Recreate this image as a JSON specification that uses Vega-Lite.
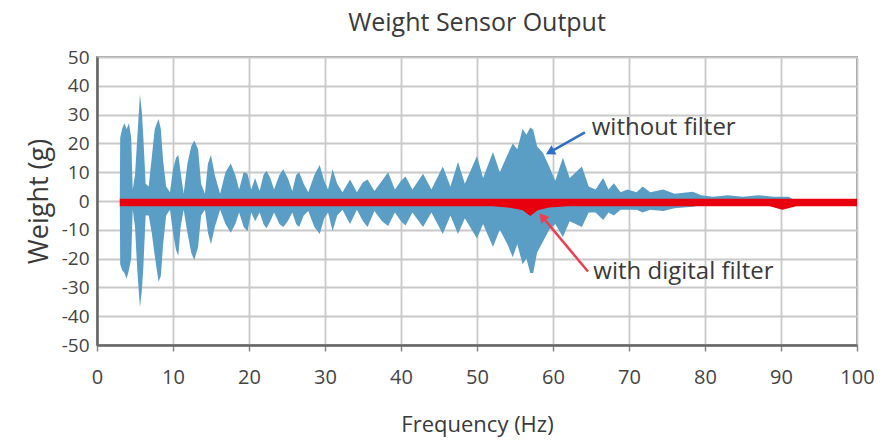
{
  "$schema": "https://vega.github.io/schema/vega-lite/v6.json",
  "width": 760,
  "height": 288,
  "autosize": {"type": "none"},
  "padding": {"left": 97, "top": 57, "right": 26, "bottom": 95},
  "background": "white",
  "title": {"text": "Weight Sensor Output", "font": "Open Sans", "fontSize": 25, "fontWeight": "normal", "color": "#3a3a3a", "anchor": "middle", "offset": 12},
  "config": {
    "view": {"stroke": "#9a9a9a", "strokeWidth": 2},
    "axis": {"labelFont": "Open Sans", "titleFont": "Open Sans", "labelColor": "#444", "titleColor": "#3a3a3a", "titleFontWeight": "normal", "labelFontSize": 20, "titleFontSize": 22, "gridColor": "#c9c9c9", "gridWidth": 1.8, "domainColor": "#666", "domainWidth": 2.5, "labelOverlap": false, "labelBound": false},
    "axisY": {"labelOverlap": false, "labelSeparation": 0}
  },
  "datasets": {
    "blue": [
      {"f": 3.0, "hi": 0, "lo": 0}, {"f": 3.05, "hi": 22, "lo": -22}, {"f": 3.3, "hi": 25, "lo": -24}, {"f": 3.6, "hi": 27, "lo": -25}, {"f": 3.9, "hi": 25, "lo": -27}, {"f": 4.2, "hi": 27, "lo": -24}, {"f": 4.5, "hi": 22, "lo": -20}, {"f": 4.7, "hi": 4, "lo": -3}, {"f": 5.0, "hi": 9, "lo": -9}, {"f": 5.3, "hi": 22, "lo": -24}, {"f": 5.65, "hi": 37, "lo": -37}, {"f": 5.9, "hi": 31, "lo": -31}, {"f": 6.1, "hi": 22, "lo": -23}, {"f": 6.4, "hi": 6, "lo": -5}, {"f": 6.8, "hi": 5, "lo": -5}, {"f": 7.2, "hi": 15, "lo": -11}, {"f": 7.6, "hi": 25, "lo": -19}, {"f": 8.1, "hi": 28.5, "lo": -28}, {"f": 8.4, "hi": 25, "lo": -26}, {"f": 8.7, "hi": 14, "lo": -15}, {"f": 9.1, "hi": 5, "lo": -5}, {"f": 9.6, "hi": 3, "lo": -3}, {"f": 10.0, "hi": 11, "lo": -11}, {"f": 10.4, "hi": 15, "lo": -17}, {"f": 10.7, "hi": 16, "lo": -19}, {"f": 11.0, "hi": 10, "lo": -9}, {"f": 11.4, "hi": 2.5, "lo": -3}, {"f": 11.9, "hi": 13, "lo": -11}, {"f": 12.4, "hi": 19, "lo": -18}, {"f": 12.8, "hi": 21, "lo": -20.5}, {"f": 13.3, "hi": 18, "lo": -16}, {"f": 13.7, "hi": 6, "lo": -5}, {"f": 14.2, "hi": 2.5, "lo": -3}, {"f": 14.6, "hi": 13, "lo": -11}, {"f": 15.0, "hi": 16, "lo": -15}, {"f": 15.5, "hi": 9, "lo": -9}, {"f": 16.2, "hi": 2.5, "lo": -3}, {"f": 16.9, "hi": 10, "lo": -8}, {"f": 17.6, "hi": 13, "lo": -11}, {"f": 18.2, "hi": 9, "lo": -8}, {"f": 18.7, "hi": 4, "lo": -4}, {"f": 19.3, "hi": 10, "lo": -9}, {"f": 19.8, "hi": 9.5, "lo": -10.5}, {"f": 20.3, "hi": 4, "lo": -4}, {"f": 20.8, "hi": 8, "lo": -7}, {"f": 21.4, "hi": 3.5, "lo": -4}, {"f": 21.9, "hi": 9, "lo": -8}, {"f": 22.3, "hi": 10.5, "lo": -9.5}, {"f": 22.8, "hi": 8, "lo": -7}, {"f": 23.3, "hi": 4, "lo": -4}, {"f": 24.0, "hi": 9, "lo": -8}, {"f": 24.5, "hi": 11, "lo": -9}, {"f": 25.1, "hi": 8, "lo": -7}, {"f": 25.7, "hi": 3.5, "lo": -4}, {"f": 26.2, "hi": 9, "lo": -8}, {"f": 26.6, "hi": 10, "lo": -9}, {"f": 27.2, "hi": 6, "lo": -5}, {"f": 27.8, "hi": 3, "lo": -3.5}, {"f": 28.6, "hi": 9, "lo": -9}, {"f": 29.3, "hi": 12.5, "lo": -11.5}, {"f": 29.9, "hi": 7, "lo": -6}, {"f": 30.4, "hi": 4, "lo": -4}, {"f": 31.0, "hi": 11, "lo": -10.5}, {"f": 31.6, "hi": 6, "lo": -5}, {"f": 32.3, "hi": 3, "lo": -3}, {"f": 33.3, "hi": 7.5, "lo": -8}, {"f": 34.2, "hi": 3, "lo": -3}, {"f": 35.0, "hi": 6.5, "lo": -7}, {"f": 35.6, "hi": 7.5, "lo": -9}, {"f": 36.5, "hi": 3.5, "lo": -3.5}, {"f": 37.5, "hi": 7, "lo": -7}, {"f": 38.3, "hi": 10, "lo": -8.7}, {"f": 39.2, "hi": 4, "lo": -4}, {"f": 40.0, "hi": 7, "lo": -7}, {"f": 40.6, "hi": 8.5, "lo": -8.5}, {"f": 41.5, "hi": 4, "lo": -4}, {"f": 42.9, "hi": 9.5, "lo": -9}, {"f": 44.0, "hi": 4, "lo": -4}, {"f": 45.5, "hi": 12, "lo": -11.5}, {"f": 46.5, "hi": 5, "lo": -5}, {"f": 47.5, "hi": 13.5, "lo": -11.5}, {"f": 48.4, "hi": 6, "lo": -6}, {"f": 50.0, "hi": 15.6, "lo": -13}, {"f": 50.8, "hi": 8, "lo": -8}, {"f": 52.1, "hi": 17, "lo": -16}, {"f": 53.0, "hi": 10, "lo": -10}, {"f": 54.0, "hi": 16, "lo": -15}, {"f": 54.7, "hi": 20, "lo": -19.5}, {"f": 55.3, "hi": 18, "lo": -15}, {"f": 56.0, "hi": 25, "lo": -22}, {"f": 56.5, "hi": 23, "lo": -20}, {"f": 57.0, "hi": 25.5, "lo": -25}, {"f": 57.4, "hi": 24.7, "lo": -25}, {"f": 57.9, "hi": 19, "lo": -18}, {"f": 58.7, "hi": 16.6, "lo": -14}, {"f": 59.5, "hi": 12, "lo": -10}, {"f": 60.3, "hi": 7, "lo": -8}, {"f": 61.3, "hi": 15, "lo": -12.5}, {"f": 62.2, "hi": 8, "lo": -7}, {"f": 63.8, "hi": 12, "lo": -9}, {"f": 64.7, "hi": 5, "lo": -4}, {"f": 65.6, "hi": 4, "lo": -4}, {"f": 66.6, "hi": 8, "lo": -6.6}, {"f": 67.3, "hi": 4, "lo": -4}, {"f": 68.0, "hi": 6.2, "lo": -5}, {"f": 68.9, "hi": 3, "lo": -3}, {"f": 69.8, "hi": 4, "lo": -3}, {"f": 71.0, "hi": 3, "lo": -3}, {"f": 71.8, "hi": 5, "lo": -4}, {"f": 72.8, "hi": 3, "lo": -3}, {"f": 74.5, "hi": 4, "lo": -3.5}, {"f": 76.0, "hi": 2.5, "lo": -2.5}, {"f": 78.4, "hi": 3.2, "lo": -2}, {"f": 79.5, "hi": 2, "lo": -1.5}, {"f": 81.0, "hi": 1.5, "lo": -1.5}, {"f": 83.0, "hi": 2, "lo": -1.5}, {"f": 85.0, "hi": 1.5, "lo": -1}, {"f": 87.0, "hi": 2, "lo": -1.5}, {"f": 89.0, "hi": 1.5, "lo": -1}, {"f": 91.0, "hi": 1.5, "lo": -1}, {"f": 92.0, "hi": 0, "lo": 0}
    ],
    "red": [
      {"f": 3.0, "hi": 0.8, "lo": -1.8}, {"f": 52.0, "hi": 0.8, "lo": -1.8}, {"f": 54.5, "hi": 0.8, "lo": -2.4}, {"f": 56.0, "hi": 0.8, "lo": -3.2}, {"f": 57.0, "hi": 0.8, "lo": -5.2}, {"f": 58.0, "hi": 0.8, "lo": -3.2}, {"f": 59.5, "hi": 0.8, "lo": -2.3}, {"f": 62.0, "hi": 0.8, "lo": -1.8}, {"f": 88.5, "hi": 0.8, "lo": -1.8}, {"f": 90.2, "hi": 0.8, "lo": -3.0}, {"f": 92.0, "hi": 0.8, "lo": -1.8}, {"f": 100.0, "hi": 0.8, "lo": -1.8}
    ],
    "notes": [
      {"label": "without filter", "f": 65.1, "hi": 25.3},
      {"label": "with digital filter", "f": 65.3, "hi": -24.5}
    ],
    "arrowBlue": [{"f": 64.2, "hi": 23.8, "f2": 59.6, "lo": 17.0}],
    "arrowRed": [{"f": 64.6, "hi": -24.5, "f2": 58.6, "lo": -5.5}]
  },
  "encoding": {
    "x": {"field": "f", "type": "quantitative", "scale": {"domain": [0, 100], "nice": false},
      "axis": {"title": "Frequency (Hz)", "values": [0, 10, 20, 30, 40, 50, 60, 70, 80, 90, 100], "tickColor": "#888", "tickSize": 6, "tickWidth": 1.5, "labelPadding": 16, "titlePadding": 27, "labelFlush": false, "labelOverlap": false}},
    "y": {"field": "hi", "type": "quantitative", "scale": {"domain": [-50, 50], "nice": false},
      "axis": {"title": "Weight (g)", "titleFontSize": 27, "values": [-50, -40, -30, -20, -10, 0, 10, 20, 30, 40, 50], "labelExpr": "'' + datum.value", "labelOverlap": false, "labelFlush": false, "ticks": false, "labelPadding": 8, "titlePadding": 8, "labelFontSize": 19}}
  },
  "layer": [
    {
      "data": {"name": "blue"},
      "mark": {"type": "area", "color": "#5a9ec6", "opacity": 1},
      "encoding": {"y2": {"field": "lo"}}
    },
    {
      "data": {"name": "red"},
      "mark": {"type": "area", "color": "#e8000e"},
      "encoding": {"y2": {"field": "lo"}}
    },
    {
      "data": {"name": "arrowBlue"},
      "mark": {"type": "rule", "color": "#2f6fc4", "strokeWidth": 2.5},
      "encoding": {"x2": {"field": "f2"}, "y2": {"field": "lo"}}
    },
    {
      "data": {"name": "arrowBlue"},
      "mark": {"type": "point", "shape": "triangle-up", "filled": true, "color": "#2f6fc4", "size": 110, "angle": 242, "opacity": 1},
      "encoding": {"x": {"field": "f2", "type": "quantitative"}, "y": {"field": "lo", "type": "quantitative"}}
    },
    {
      "data": {"name": "arrowRed"},
      "mark": {"type": "rule", "color": "#ec4050", "strokeWidth": 2.5},
      "encoding": {"x2": {"field": "f2"}, "y2": {"field": "lo"}}
    },
    {
      "data": {"name": "arrowRed"},
      "mark": {"type": "point", "shape": "triangle-up", "filled": true, "color": "#ec4050", "size": 110, "angle": 320, "opacity": 1},
      "encoding": {"x": {"field": "f2", "type": "quantitative"}, "y": {"field": "lo", "type": "quantitative"}}
    },
    {
      "data": {"name": "notes"},
      "mark": {"type": "text", "align": "left", "baseline": "middle", "font": "Open Sans", "fontSize": 24, "color": "#3a3a3a"},
      "encoding": {"text": {"field": "label"}}
    }
  ]
}
